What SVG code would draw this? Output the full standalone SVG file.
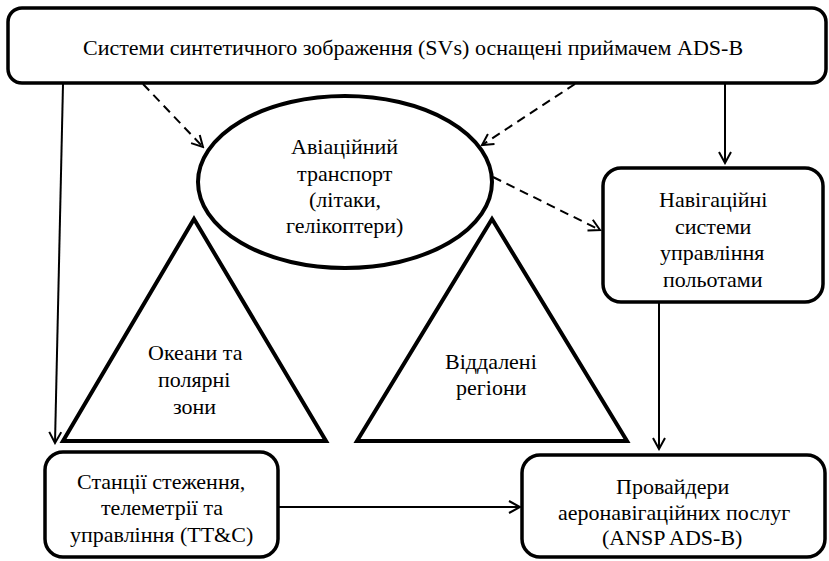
<svg xmlns="http://www.w3.org/2000/svg" width="829" height="561" viewBox="0 0 829 561">
<defs>
<marker id="arr" markerWidth="14" markerHeight="14" refX="12" refY="7" orient="auto" markerUnits="userSpaceOnUse">
<path d="M1,1 L12,7 L1,13" fill="none" stroke="#000" stroke-width="2"/>
</marker>
</defs>
<rect width="829" height="561" fill="#fff"/>
<g id="top">
<rect fill="#fff" stroke="#000" stroke-width="3.5" x="8" y="8" width="818" height="75" rx="14"/>
<text font-family="Liberation Serif" font-size="22" x="83" y="55">Системи синтетичного зображення (SVs) оснащені приймачем ADS-B</text>
</g>
<g id="aircraft">
<ellipse fill="#fff" stroke="#000" stroke-width="4" cx="345" cy="182" rx="147" ry="86"/>
<text font-family="Liberation Serif" font-size="22" x="291" y="154">Авіаційний</text>
<text font-family="Liberation Serif" font-size="22" x="297" y="181">транспорт</text>
<text font-family="Liberation Serif" font-size="22" x="309" y="207">(літаки,</text>
<text font-family="Liberation Serif" font-size="22" x="286" y="233">гелікоптери)</text>
</g>
<g id="oceans">
<polygon fill="#fff" stroke="#000" stroke-width="4" points="194,219 326,441 63,441"/>
<text font-family="Liberation Serif" font-size="22" x="148" y="360">Океани та</text>
<text font-family="Liberation Serif" font-size="22" x="158" y="387">полярні</text>
<text font-family="Liberation Serif" font-size="22" x="173" y="414">зони</text>
</g>
<g id="remote">
<polygon fill="#fff" stroke="#000" stroke-width="4" points="492,219 627,441 357,441"/>
<text font-family="Liberation Serif" font-size="22" x="445" y="369">Віддалені</text>
<text font-family="Liberation Serif" font-size="22" x="456" y="395">регіони</text>
</g>
<g id="nav">
<rect fill="#fff" stroke="#000" stroke-width="3.5" x="603" y="168" width="220" height="134" rx="18"/>
<text font-family="Liberation Serif" font-size="22" x="659" y="207">Навігаційні</text>
<text font-family="Liberation Serif" font-size="22" x="675" y="234">системи</text>
<text font-family="Liberation Serif" font-size="22" x="660" y="260">управління</text>
<text font-family="Liberation Serif" font-size="22" x="663" y="287">польотами</text>
</g>
<g id="ttc">
<rect fill="#fff" stroke="#000" stroke-width="3.5" x="45" y="452" width="233" height="105" rx="18"/>
<text font-family="Liberation Serif" font-size="22" x="77" y="489">Станції стеження,</text>
<text font-family="Liberation Serif" font-size="22" x="101" y="515">телеметрії та</text>
<text font-family="Liberation Serif" font-size="22" x="70" y="542">управління (TT&amp;C)</text>
</g>
<g id="ansp">
<rect fill="#fff" stroke="#000" stroke-width="3.5" x="522" y="455" width="303" height="102" rx="18"/>
<text font-family="Liberation Serif" font-size="22" x="616" y="494">Провайдери</text>
<text font-family="Liberation Serif" font-size="22" x="558" y="520">аеронавігаційних послуг</text>
<text font-family="Liberation Serif" font-size="22" x="602" y="545">(ANSP ADS-B)</text>
</g>
<g id="connectors" fill="none" stroke="#000" stroke-width="2" marker-end="url(#arr)">
<path d="M63,84 L55,443"/>
<path d="M725,84 L725,163"/>
<path stroke-dasharray="9 6" d="M143,84 L203,147"/>
<path stroke-dasharray="9 6" d="M575,84 L482,145"/>
<path stroke-dasharray="9 6" d="M493,177 L600,230"/>
<path d="M659,303 L659,449"/>
<path d="M279,507 L520,507"/>
</g>
</svg>
